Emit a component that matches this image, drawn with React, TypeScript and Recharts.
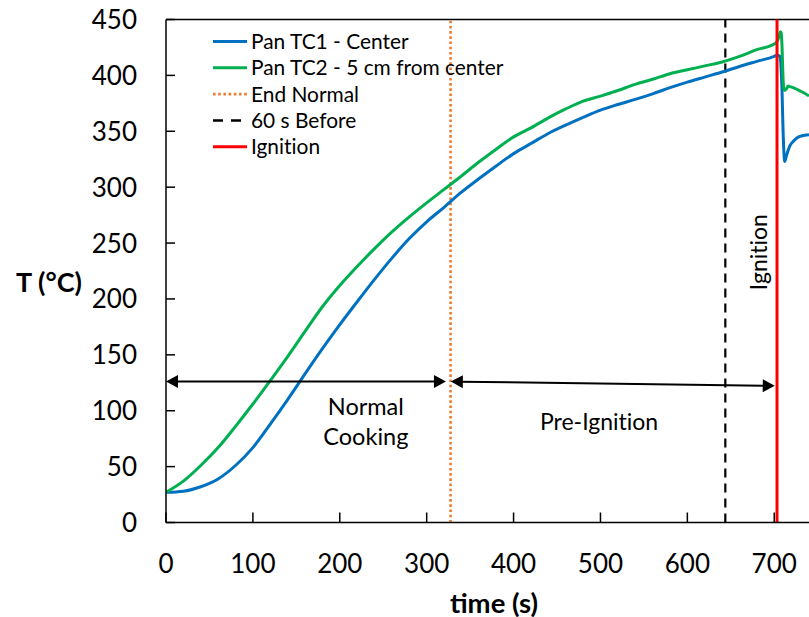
import React from "react";
import { LineChart, Line, XAxis, YAxis, ReferenceLine, ReferenceDot, Legend } from "recharts";

// ---- data ----
const times = [
  0, 20, 40, 60, 80, 100, 120, 140, 160, 180, 200, 220, 240, 260, 280, 300, 320, 340, 360, 380,
  400, 420, 440, 460, 480, 500, 520, 540, 560, 580, 600, 620, 640, 660, 680, 700,
  703, 706, 707, 708, 709, 710, 711, 712, 714, 716, 718, 722, 726, 730, 735, 740,
];
const tc1Center = [
  27, 28, 32, 39, 51, 67, 88, 110, 133, 155.5, 177, 197.5, 217.5, 236.5, 254, 269, 282, 295.5, 307.5, 319,
  330, 339, 348, 355.5, 362.5, 369, 374, 378.5, 383.5, 389, 394, 398.5, 403, 408, 412.5, 417,
  418, 417.5, 416, 405, 385, 355, 333, 323, 328, 333, 337, 341, 344, 345.5, 346.5, 347,
];
const tc2FiveCm = [
  27, 37, 51, 67, 86, 106, 127, 148.5, 171, 193, 212, 229, 245, 260, 273.5, 286, 298, 310, 322.5, 334,
  345, 353, 362, 370, 377, 381.5, 386.5, 392, 396.5, 401.5, 405, 408.5, 412, 417, 423, 428,
  430, 436, 439, 438, 425, 400, 388, 386.5, 388, 390.5, 390, 389, 387.5, 386, 384, 381.5,
];
const xTicks = [0, 100, 200, 300, 400, 500, 600, 700];
const yTicks = [0, 50, 100, 150, 200, 250, 300, 350, 400, 450];
const endNormal = 327.5;
const sixtyBefore = 643.7;
const ignition = 703.2;
const normalArrow = [{ x: 0, y: 126.1 }, { x: 322.2, y: 126.1 }];
const preIgnitionArrow = [{ x: 327.8, y: 126.1 }, { x: 700.6, y: 122.3 }];
const seriesNames = ["Pan TC1 - Center", "Pan TC2 - 5 cm from center"];
const legendNames = ["End Normal", "60 s Before", "Ignition"];

const data = times.map((t, i) => ({ t, a: tc1Center[i], b: tc2FiveCm[i] }));

const FONT = "Lato, 'Open Sans', sans-serif";
const NOLIG: React.CSSProperties = { fontVariantLigatures: "none" };
const BLUE = "#0070C0";
const GREEN = "#00B050";
const ORANGE = "#ED7D31";
const RED = "#FF0000";

const XTick = (p: any) => (
  <g>
    <line x1={p.x} y1={p.y} x2={p.x} y2={p.y - 10} stroke="#000" strokeWidth={1.5} />
    <text x={p.x} y={p.y + 50} textAnchor="middle" fontSize={26} fontFamily={FONT} fill="#000">
      {p.payload.value}
    </text>
  </g>
);

const YTick = (p: any) => (
  <g>
    <line x1={p.x} y1={p.y} x2={p.x + 9} y2={p.y} stroke="#000" strokeWidth={1.5} />
    <text x={p.x - 29} y={p.y + 9.5} textAnchor="end" fontSize={26} fontFamily={FONT} fill="#000">
      {p.payload.value}
    </text>
  </g>
);

const DoubleArrow = (p: any) => {
  const { x1, y1, x2, y2 } = p;
  const dx = x2 - x1;
  const dy = y2 - y1;
  const len = Math.sqrt(dx * dx + dy * dy);
  const ux = dx / len;
  const uy = dy / len;
  const L = 12;
  const W = 6.5;
  const head = (tx: number, ty: number, dirx: number, diry: number) => {
    const bx = tx - dirx * L;
    const by = ty - diry * L;
    return `${tx},${ty} ${bx - diry * W},${by + dirx * W} ${bx + diry * W},${by - dirx * W}`;
  };
  return (
    <g>
      <line x1={x1 + ux * 8} y1={y1 + uy * 8} x2={x2 - ux * 8} y2={y2 - uy * 8} stroke="#000" strokeWidth={2} />
      <polygon points={head(x1, y1, -ux, -uy)} fill="#000" />
      <polygon points={head(x2, y2, ux, uy)} fill="#000" />
    </g>
  );
};

const TextAt = (label: string, size: number, rotate = false) => (p: any) => {
  const { cx, cy } = p;
  if (rotate) {
    return (
      <text
        x={cx}
        y={cy}
        transform={`rotate(-90, ${cx}, ${cy})`}
        textAnchor="middle"
        dominantBaseline="central"
        fontSize={size}
        fontFamily={FONT}
        fill="#000"
        style={NOLIG}
      >
        {label}
      </text>
    );
  }
  return (
    <text x={cx} y={cy + size * 0.36} textAnchor="middle" fontSize={size} fontFamily={FONT} fill="#000" style={NOLIG}>
      {label}
    </text>
  );
};

const LegendContent = () => {
  const rows = [
    { name: seriesNames[0], color: BLUE, dash: undefined, w: 3 },
    { name: seriesNames[1], color: GREEN, dash: undefined, w: 3 },
    { name: legendNames[0], color: ORANGE, dash: "2.6 2.6", w: 2.6 },
    { name: legendNames[1], color: "#000", dash: "10 8", w: 2.5 },
    { name: legendNames[2], color: RED, dash: undefined, w: 3 },
  ];
  return (
    <svg width={560} height={170} style={{ display: "block" }}>
      {rows.map((r, i) => {
        const cy = 41.5 + i * 26.3;
        return (
          <g key={r.name}>
            <line x1={213} y1={cy} x2={247} y2={cy} stroke={r.color} strokeWidth={r.w} strokeDasharray={r.dash} />
            <text x={251} y={cy + 7.5} fontSize={20.9} fontFamily={FONT} fill="#000" style={NOLIG}>
              {r.name}
            </text>
          </g>
        );
      })}
    </svg>
  );
};

export default function App() {
  return (
    <div style={{ position: "absolute", left: 0, top: 0, width: 809, height: 617, background: "#fff" }}>
      <LineChart width={809} height={617} data={data} margin={{ top: 19.5, right: 0, left: 0, bottom: 0 }}>
        <XAxis
          dataKey="t"
          type="number"
          domain={[0, 740]}
          ticks={xTicks}
          allowDataOverflow
          height={94.5}
          tickSize={0}
          tickMargin={0}
          tick={<XTick />}
          axisLine={{ stroke: "#000", strokeWidth: 1.5 }}
          label={{
            content: (p: any) => {
              const vb = p.viewBox;
              return (
                <text x={vb.x + 328} y={vb.y + 90} textAnchor="middle" fontSize={27.5} fontWeight="bold" fontFamily={FONT} fill="#000">
                  time (s)
                </text>
              );
            },
          }}
        />
        <YAxis
          type="number"
          domain={[0, 450]}
          ticks={yTicks}
          width={166}
          tickSize={0}
          tickMargin={0}
          tick={<YTick />}
          axisLine={{ stroke: "#000", strokeWidth: 1.5 }}
          label={{
            content: (p: any) => {
              const vb = p.viewBox;
              return (
                <text x={vb.x + 49} y={vb.y + vb.height / 2 + 20.5} textAnchor="middle" fontSize={27} fontWeight="bold" fontFamily={FONT} fill="#000">
                  T (°C)
                </text>
              );
            },
          }}
        />
        <ReferenceLine y={450} stroke="#000" strokeWidth={1.5} ifOverflow="visible" />
        <ReferenceLine x={endNormal} stroke={ORANGE} strokeWidth={2.6} strokeDasharray="2.6 2.6" />
        <ReferenceLine x={sixtyBefore} stroke="#000" strokeWidth={2.2} strokeDasharray="9 6" />
        <Line type="monotone" dataKey="a" name={seriesNames[0]} stroke={BLUE} strokeWidth={3} dot={false} isAnimationActive={false} />
        <Line type="monotone" dataKey="b" name={seriesNames[1]} stroke={GREEN} strokeWidth={3} dot={false} isAnimationActive={false} />
        <ReferenceLine x={ignition} stroke={RED} strokeWidth={3} />
        <ReferenceLine segment={normalArrow} shape={DoubleArrow} ifOverflow="visible" />
        <ReferenceLine segment={preIgnitionArrow} shape={DoubleArrow} ifOverflow="visible" />
        <ReferenceDot x={230} y={103.7} r={0} ifOverflow="visible" shape={TextAt("Normal", 23.5)} />
        <ReferenceDot x={230} y={76.8} r={0} ifOverflow="visible" shape={TextAt("Cooking", 23.5)} />
        <ReferenceDot x={498.4} y={90.3} r={0} ifOverflow="visible" shape={TextAt("Pre-Ignition", 23)} />
        <ReferenceDot x={681.8} y={241.9} r={0} ifOverflow="visible" shape={TextAt("Ignition", 23, true)} />
        <Legend
          layout="vertical"
          align="center"
          verticalAlign="middle"
          content={<LegendContent />}
          wrapperStyle={{ left: 0, top: 0, width: 560, height: 170 }}
        />
      </LineChart>
    </div>
  );
}
